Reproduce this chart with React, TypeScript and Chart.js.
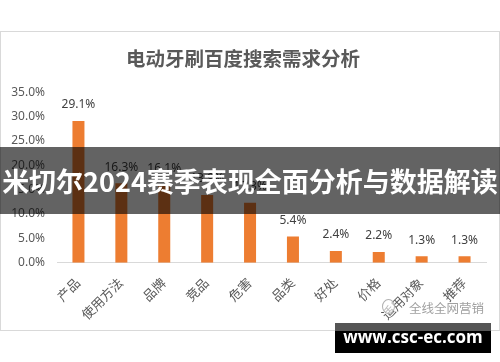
import React, { useEffect, useRef } from "react";
import { Chart, registerables } from "chart.js";

Chart.register(...registerables);

const categories = ["产品", "使用方法", "品牌", "竞品", "危害", "品类", "好处", "价格", "适用对象", "推荐"];
const shares = [29.1, 16.3, 16.1, 13.9, 12.3, 5.4, 2.4, 2.2, 1.3, 1.3];
const chartTitle = "电动牙刷百度搜索需求分析";
const bannerText = "米切尔2024赛季表现全面分析与数据解读";
const logoText = "全线全网营销";
const siteText = "www.csc-ec.com";

const FONT = "'Noto Sans', 'Noto Sans CJK SC', sans-serif";
const CJK = "'Noto Sans CJK SC', sans-serif";

const valueLabels = {
  id: "valueLabels",
  afterDatasetsDraw(chart: any) {
    const ctx = chart.ctx;
    const meta = chart.getDatasetMeta(0);
    ctx.save();
    ctx.font = `12px ${FONT}`;
    ctx.fillStyle = "#404040";
    ctx.textAlign = "center";
    ctx.textBaseline = "middle";
    meta.data.forEach((bar: any, i: number) => {
      ctx.fillText(shares[i].toFixed(1) + "%", bar.x, bar.y - 16);
    });
    ctx.restore();
  },
};

export default function App() {
  const ref = useRef<HTMLCanvasElement | null>(null);
  useEffect(() => {
    document.body.style.margin = "0";
    const chart = new Chart(ref.current as HTMLCanvasElement, {
      type: "bar",
      data: {
        labels: categories,
        datasets: [
          {
            data: shares,
            backgroundColor: "#ED7D31",
            categoryPercentage: 1,
            barPercentage: 0.28,
          },
        ],
      },
      options: {
        animation: false,
        responsive: false,
        layout: { padding: { left: 0, right: 14, top: 0, bottom: 0 } },
        plugins: {
          legend: { display: false },
          tooltip: { enabled: false },
          title: {
            display: true,
            text: chartTitle,
            color: "#595959",
            font: { family: CJK, size: 19.5, weight: "bold" },
            padding: { top: 47.3, bottom: 21.6 },
          },
        },
        scales: {
          y: {
            min: 0,
            max: 35,
            ticks: {
              stepSize: 5,
              color: "#595959",
              font: { family: FONT, size: 12 },
              padding: 12,
              callback: (v: any) => Number(v).toFixed(1) + "%",
            },
            grid: { display: false, drawTicks: false },
            border: { display: false },
            afterFit: (axis: any) => {
              axis.width = 57;
            },
          },
          x: {
            ticks: {
              color: "#595959",
              font: { family: FONT, size: 13 },
              minRotation: 45,
              maxRotation: 45,
              padding: 13,
              autoSkip: false,
            },
            grid: { display: false, drawTicks: false },
            border: { display: true, color: "#d9d9d9", width: 1 },
            afterFit: (axis: any) => {
              axis.height = 99.3;
            },
          },
        },
      },
      plugins: [valueLabels],
    });
    return () => chart.destroy();
  }, []);

  return (
    <div style={{ position: "relative", width: 500, height: 362, background: "#fff", overflow: "hidden" }}>
      <div
        style={{
          position: "absolute",
          left: 0,
          top: 31,
          width: 500,
          height: 300,
          border: "1px solid #d9d9d9",
          boxSizing: "border-box",
        }}
      />
      <canvas ref={ref} width={500} height={362} style={{ position: "absolute", left: 0, top: 0 }} />
      <div
        style={{
          position: "absolute",
          left: 0,
          top: 147,
          width: 500,
          height: 67,
          background: "rgba(0,0,0,0.61)",
          color: "#fff",
          fontFamily: CJK,
          fontWeight: "bold",
          fontSize: 27,
          lineHeight: "67px",
          textAlign: "center",
          whiteSpace: "nowrap",
        }}
      >
        {bannerText}
      </div>
      <div
        style={{
          position: "absolute",
          left: 382,
          top: 299,
          width: 13,
          height: 15,
          border: "1.5px solid #b0b0b0",
          borderRadius: "50%",
          boxSizing: "border-box",
          background: "rgba(255,255,255,0.6)",
        }}
      />
      <div
        style={{
          position: "absolute",
          left: 409,
          top: 300,
          fontFamily: CJK,
          fontSize: 12.5,
          lineHeight: "16px",
          color: "#a0a0a0",
          whiteSpace: "nowrap",
        }}
      >
        {logoText}
      </div>
      <div
        style={{
          position: "absolute",
          left: 335,
          top: 323,
          width: 156,
          height: 30,
          background: "#000",
          borderTop: "8px solid #555",
          boxSizing: "border-box",
          color: "#fff",
          fontFamily: "'Open Sans', sans-serif",
          fontWeight: "bold",
          fontSize: 17,
          lineHeight: "20px",
          textAlign: "center",
          whiteSpace: "nowrap",
        }}
      >
        <div style={{ marginTop: -4 }}>{siteText}</div>
      </div>
    </div>
  );
}
